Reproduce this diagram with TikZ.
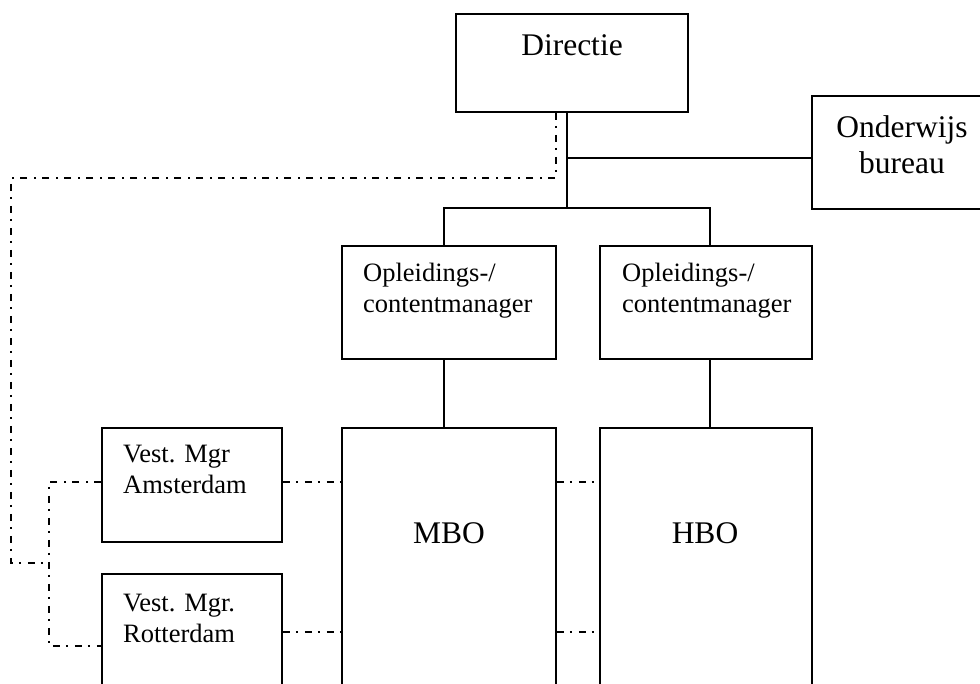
\documentclass[tikz,border=0pt]{standalone}
\usepackage{fontspec}
\setmainfont{Liberation Serif}
\tikzset{
  box/.style={draw, line width=1.8pt, inner sep=0pt},
  big/.style={font=\fontsize{31.5}{36}\selectfont, inner sep=0pt},
  small/.style={font=\fontsize{26.5}{30.5}\selectfont, inner sep=0pt, align=left},
  link/.style={line width=1.6pt},
  staff/.style={line width=1.6pt, dash pattern=on 7pt off 6pt on 2pt off 7pt},
}
\begin{document}
\begin{tikzpicture}[x=1pt,y=-1pt]
\useasboundingbox (0,0) rectangle (980,683);
% boxes
\node[box, minimum width=232pt, minimum height=98pt] (dir) at (572,63) {};
\node[box, minimum width=180pt, minimum height=113pt] (ond) at (902,152.5) {};
\node[box, minimum width=214pt, minimum height=113pt] (opl1) at (449,302.5) {};
\node[box, minimum width=212pt, minimum height=113pt] (opl2) at (706,302.5) {};
\node[box, minimum width=180pt, minimum height=114pt] (ams) at (192,485) {};
\node[box, minimum width=180pt, minimum height=130pt] (rot) at (192,639) {};
\node[box, minimum width=214pt, minimum height=280pt] (mbo) at (449,568) {};
\node[box, minimum width=212pt, minimum height=280pt] (hbo) at (706,568) {};
% texts
\node[big, anchor=base] (dirt) at (572,55) {Directie};
\node[big, align=center, anchor=base] (ondt) at (902,173) {Onderwijs\\bureau};
\node[small, anchor=base west] (opl1t) at (363,312) {Opleidings-/\\contentmanager};
\node[small, anchor=base west] (opl2t) at (622,312) {Opleidings-/\\contentmanager};
\node[small, anchor=base west] (amst) at (123,493) {Vest. Mgr\\Amsterdam};
\node[small, anchor=base west] (rott) at (123,642) {Vest. Mgr.\\Rotterdam};
\node[big, anchor=base] (mbot) at (449,543) {MBO};
\node[big, anchor=base] (hbot) at (705,543) {HBO};
% line of command
\coordinate (hub) at (567,158);
\coordinate (bar) at (567,208);
\coordinate (c1) at (444,208);
\coordinate (c2) at (710,208);
\draw[link] (dir.south -| hub) -- (bar);
\draw[link] (hub) -- (hub -| ond.west);
\draw[link] (opl1.north -| c1) -- (c1) -- (c2) -- (opl2.north -| c2);
\draw[link] (opl1.south -| c1) -- (mbo.north -| c1);
\draw[link] (opl2.south -| c2) -- (hbo.north -| c2);
% staff lines
\coordinate (d1) at (556,178);
\coordinate (d2) at (11,563);
\coordinate (d3) at (49,563);
\coordinate (amsrow) at (0,482);
\coordinate (rotrow) at (0,632);
\coordinate (rotin) at (0,646);
\draw[staff] (dir.south -| d1) -- (d1) -| (d2) -- (d3);
\draw[staff] (ams.west |- amsrow) -| (d3) |- (rot.west |- rotin);
\draw[staff] (ams.east |- amsrow) -- (mbo.west |- amsrow);
\draw[staff] (mbo.east |- amsrow) -- (hbo.west |- amsrow);
\draw[staff] (rot.east |- rotrow) -- (mbo.west |- rotrow);
\draw[staff] (mbo.east |- rotrow) -- (hbo.west |- rotrow);
\end{tikzpicture}
\end{document}
